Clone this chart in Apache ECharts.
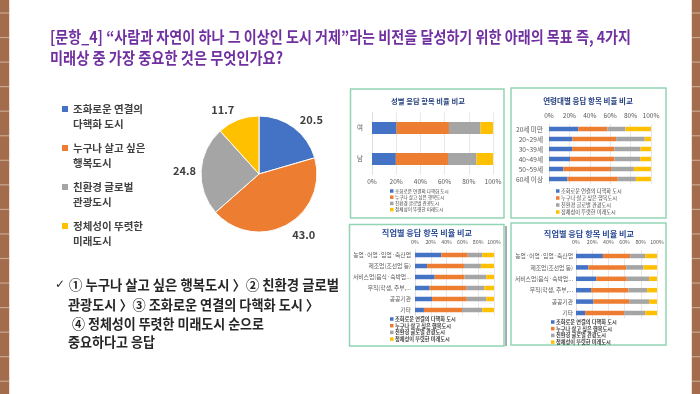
<!DOCTYPE html>
<html>
<head>
<meta charset="utf-8">
<script src="https://cdn.jsdelivr.net/npm/echarts@6/dist/echarts.min.js"></script>
<style>html,body{margin:0;padding:0;background:#fff}#c{width:700px;height:394px}</style>
</head>
<body>
<div id="c"></div>
<script>
// ---------- DATA ----------
const segmentNames = ['조화로운 연결의 다핵화 도시', '누구나 살고 싶은 행복도시', '친환경 글로벌 관광도시', '정체성이 뚜렷한 미래도시'];
const pieLegendLabels = ['조화로운 연결의\n다핵화 도시', '누구나 살고 싶은\n행복도시', '친환경 글로벌\n관광도시', '정체성이 뚜렷한\n미래도시'];
const pieValues = [20.5, 43.0, 24.8, 11.7];

const percentTicks = [0, 20, 40, 60, 80, 100];

const genderCategories = ['여', '남'];
const genderConnected = [20.3, 19.7];
const genderHappy = [43.3, 43.1];
const genderEco = [26.1, 23.6];
const genderIdentity = [10.3, 13.6];

const ageCategories = ['20세 미만', '20~29세', '30~39세', '40~49세', '50~59세', '60세 이상'];
const ageConnected = [28.6, 23.0, 22.7, 20.7, 14.1, 18.1];
const ageHappy = [28.6, 42.8, 41.4, 43.4, 46.7, 49.3];
const ageEco = [17.8, 28.0, 25.7, 25.3, 22.4, 17.8];
const ageIdentity = [25.0, 6.2, 10.2, 10.6, 16.8, 14.8];

const jobCategories = ['농업·어업·임업·축산업', '제조업(조선업 등)', '서비스업(음식·숙박업...', '무직(학생, 주부,...', '공공기관', '기타'];
const jobConnected = [33.2, 15.3, 24.9, 18.6, 21.6, 11.3];
const jobHappy = [33.6, 46.7, 37.8, 46.1, 44.0, 48.2];
const jobEco = [18.6, 21.4, 27.5, 23.1, 24.6, 25.8];
const jobIdentity = [14.6, 16.6, 9.8, 12.2, 9.8, 14.7];

// ---------- STYLE ----------
const colors = ['#4472C4', '#ED7D31', '#A5A5A5', '#FFC000'];
const FF = '"Noto Sans CJK KR", "Noto Sans", sans-serif';
const pieLabelLineLength = [10, 11, 5, 11];

const mctx = document.createElement('canvas').getContext('2d');
function fitScale(text, font, w) { mctx.font = font; return w / mctx.measureText(text).width; }

function fitText(text, x, y, size, weight, color, w) {
  const font = weight + ' ' + size + 'px ' + FF;
  return { type: 'text', x: x, y: y, scaleX: fitScale(text, font, w), silent: true,
    style: { text: text, font: font, fill: color, verticalAlign: 'middle', align: 'left' } };
}
function centerText(text, x, y, size, color) {
  return { type: 'text', x: x, y: y, silent: true,
    style: { text: text, font: 'bold ' + size + 'px ' + FF, fill: color, verticalAlign: 'middle', align: 'center' } };
}

const graphics = [];
// brick strips at slide edges
[[0, 9], [692, 8]].forEach(function (s) {
  graphics.push({ type: 'rect', silent: true, shape: { x: s[0], y: 0, width: s[1], height: 394 }, style: { fill: '#A36C4C' } });
  for (let y = 12.4; y < 394; y += 24.55) {
    graphics.push({ type: 'rect', silent: true, shape: { x: s[0], y: y, width: s[1], height: 1.2 }, style: { fill: '#C9A891' } });
  }
});
graphics.push({ type: 'rect', silent: true, shape: { x: 9, y: 0, width: 1, height: 394 }, style: { fill: '#F3DED0' } });
graphics.push({ type: 'rect', silent: true, shape: { x: 691, y: 0, width: 1, height: 394 }, style: { fill: '#F3DED0' } });

// panel frames
[[350.5, 89, 153.5, 129], [511, 88, 155, 130], [349.5, 224.5, 154.5, 121.5], [511, 223, 155, 122]].forEach(function (r) {
  graphics.push({ type: 'rect', silent: true, shape: { x: r[0], y: r[1], width: r[2], height: r[3] },
    style: { fill: 'none', stroke: '#93D4B4', lineWidth: 1.5 } });
});
graphics.push({ type: 'line', silent: true, shape: { x1: 506, y1: 226, x2: 506, y2: 346 }, style: { stroke: '#4a5868', lineWidth: 1 } });

// slide title
graphics.push(fitText('[문항_4] “사람과 자연이 하나 그 이상인 도시 거제”라는 비전을 달성하기 위한 아래의 목표 즉, 4가지', 50, 37, 16, 'bold', '#7030A0', 581));
graphics.push(fitText('미래상 중 가장 중요한 것은 무엇인가요?', 50, 57.5, 16, 'bold', '#7030A0', 233));

// conclusion text
graphics.push({ type: 'text', x: 55, y: 285, silent: true, style: { text: '✓', font: 'bold 12px "DejaVu Sans", sans-serif', fill: '#262626', verticalAlign: 'middle' } });
graphics.push(fitText('① 누구나 살고 싶은 행복도시 〉② 친환경 글로벌', 69, 285, 13.5, 'bold', '#262626', 270));
graphics.push(fitText('관광도시 〉③ 조화로운 연결의 다핵화 도시 〉', 68, 304.5, 13.5, 'bold', '#262626', 251));
graphics.push(fitText('④ 정체성이 뚜렷한 미래도시 순으로', 72, 323.5, 13.5, 'bold', '#262626', 192));
graphics.push(fitText('중요하다고 응답', 68, 342, 13.5, 'bold', '#262626', 87));

// panel titles
graphics.push(centerText('성별 응답 항목 비율 비교', 428, 101, 7.3, '#24407E'));
graphics.push(centerText('연령대별 응답 항목 비율 비교', 588, 101, 7.5, '#24407E'));
graphics.push(centerText('직업별 응답 항목 비율 비교', 427, 233, 8.2, '#2B4C95'));
graphics.push(centerText('직업별 응답 항목 비율 비교', 589, 234, 8.2, '#2B4C95'));

// ---------- GRIDS / AXES ----------
const panels = [
  { cats: genderCategories, vals: [genderConnected, genderHappy, genderEco, genderIdentity], grid: { left: 372, right: 207, top: 112.5, height: 62 }, pos: 'bottom', xMargin: 4, yMargin: 9, xFont: 6.5, yFont: 6.5, barW: 12 },
  { cats: ageCategories, vals: [ageConnected, ageHappy, ageEco, ageIdentity], grid: { left: 549, right: 49, top: 124, height: 60 }, pos: 'top', xMargin: 5, yMargin: 6, xFont: 6.5, yFont: 6.6, barW: 4.5 },
  { cats: jobCategories, vals: [jobConnected, jobHappy, jobEco, jobIdentity], grid: { left: 415, right: 206, top: 249.5, height: 66 }, pos: 'top', xMargin: 5, yMargin: 4, xFont: 5.3, yFont: 5.8, barW: 4.5 },
  { cats: jobCategories, vals: [jobConnected, jobHappy, jobEco, jobIdentity], grid: { left: 576, right: 43, top: 250.3, height: 68.4 }, pos: 'top', xMargin: 5.5, yMargin: 3, xFont: 5.3, yFont: 5.8, barW: 4.5 }
];

const tickStep = percentTicks[1] - percentTicks[0];
const grids = [], xAxes = [], yAxes = [], series = [];
panels.forEach(function (p, gi) {
  grids.push(Object.assign({ containLabel: false }, p.grid));
  xAxes.push({ type: 'value', gridIndex: gi, position: p.pos, min: percentTicks[0], max: percentTicks[percentTicks.length - 1], interval: tickStep,
    axisLine: { show: false }, axisTick: { show: false },
    splitLine: { show: true, lineStyle: { color: '#D9D9D9', width: 0.6 } },
    axisLabel: { formatter: '{value}%', fontSize: p.xFont, color: '#595959', margin: p.xMargin, fontFamily: FF } });
  yAxes.push({ type: 'category', gridIndex: gi, inverse: true, data: p.cats,
    axisLine: { show: true, lineStyle: { color: '#D9D9D9', width: 0.6 } }, axisTick: { show: false },
    axisLabel: { fontSize: p.yFont, color: '#595959', margin: p.yMargin, fontFamily: FF } });
  p.vals.forEach(function (v, si) {
    series.push({ type: 'bar', name: segmentNames[si], xAxisIndex: gi, yAxisIndex: gi, stack: 'panel' + gi,
      barWidth: p.barW, data: v, itemStyle: { color: colors[si] }, emphasis: { disabled: true }, animation: false });
  });
});

series.push({
  type: 'pie', center: [259, 174], radius: 58, startAngle: 90, clockwise: true, animation: false,
  itemStyle: { borderColor: '#fff', borderWidth: 1 },
  label: { show: true, position: 'outside', formatter: function (p) { return p.value.toFixed(1); },
    fontSize: 11, fontWeight: 'bold', color: '#404040', fontFamily: FF, distanceToLabelLine: 0 },
  labelLine: { show: false, length: 11, length2: 0 },
  emphasis: { disabled: true },
  data: segmentNames.map(function (n, i) {
    return { name: n, value: pieValues[i], itemStyle: { color: colors[i] }, labelLine: { length: pieLabelLineLength[i] } };
  })
});

function panelLegend(left, top, size, lh, gap, weight) {
  return { data: segmentNames, orient: 'vertical', left: left, top: top, padding: 0, icon: 'rect',
    itemWidth: 3.5, itemHeight: 3.5, itemGap: gap, selectedMode: false,
    textStyle: { fontSize: size, lineHeight: lh, color: '#404040', fontFamily: FF, fontWeight: weight, padding: [0, 0, 0, -3.5] } };
}

const legends = [
  { data: segmentNames, orient: 'vertical', left: 62, top: 85.75, padding: 0, icon: 'rect', itemWidth: 6, itemHeight: 6,
    itemGap: -7.5, selectedMode: false,
    formatter: function (n) { return '\n' + pieLegendLabels[segmentNames.indexOf(n)]; },
    textStyle: { fontSize: 10.5, fontWeight: 'bold', color: '#404040', lineHeight: 15.5, fontFamily: FF } },
  panelLegend(390, 188.5, 4.6, 5, 1.2, 'normal'),
  panelLegend(556, 188, 5.2, 6, 1, 'normal'),
  panelLegend(390, 316, 5.2, 6, 0.7, 'bold'),
  panelLegend(551, 319, 5.2, 6, 0.7, 'bold')
];

const chart = echarts.init(document.getElementById('c'), null, { renderer: 'canvas' });
chart.setOption({
  backgroundColor: '#ffffff',
  animation: false,
  textStyle: { fontFamily: FF },
  grid: grids, xAxis: xAxes, yAxis: yAxes,
  legend: legends,
  series: series,
  graphic: { elements: graphics }
});
</script>
</body>
</html>
